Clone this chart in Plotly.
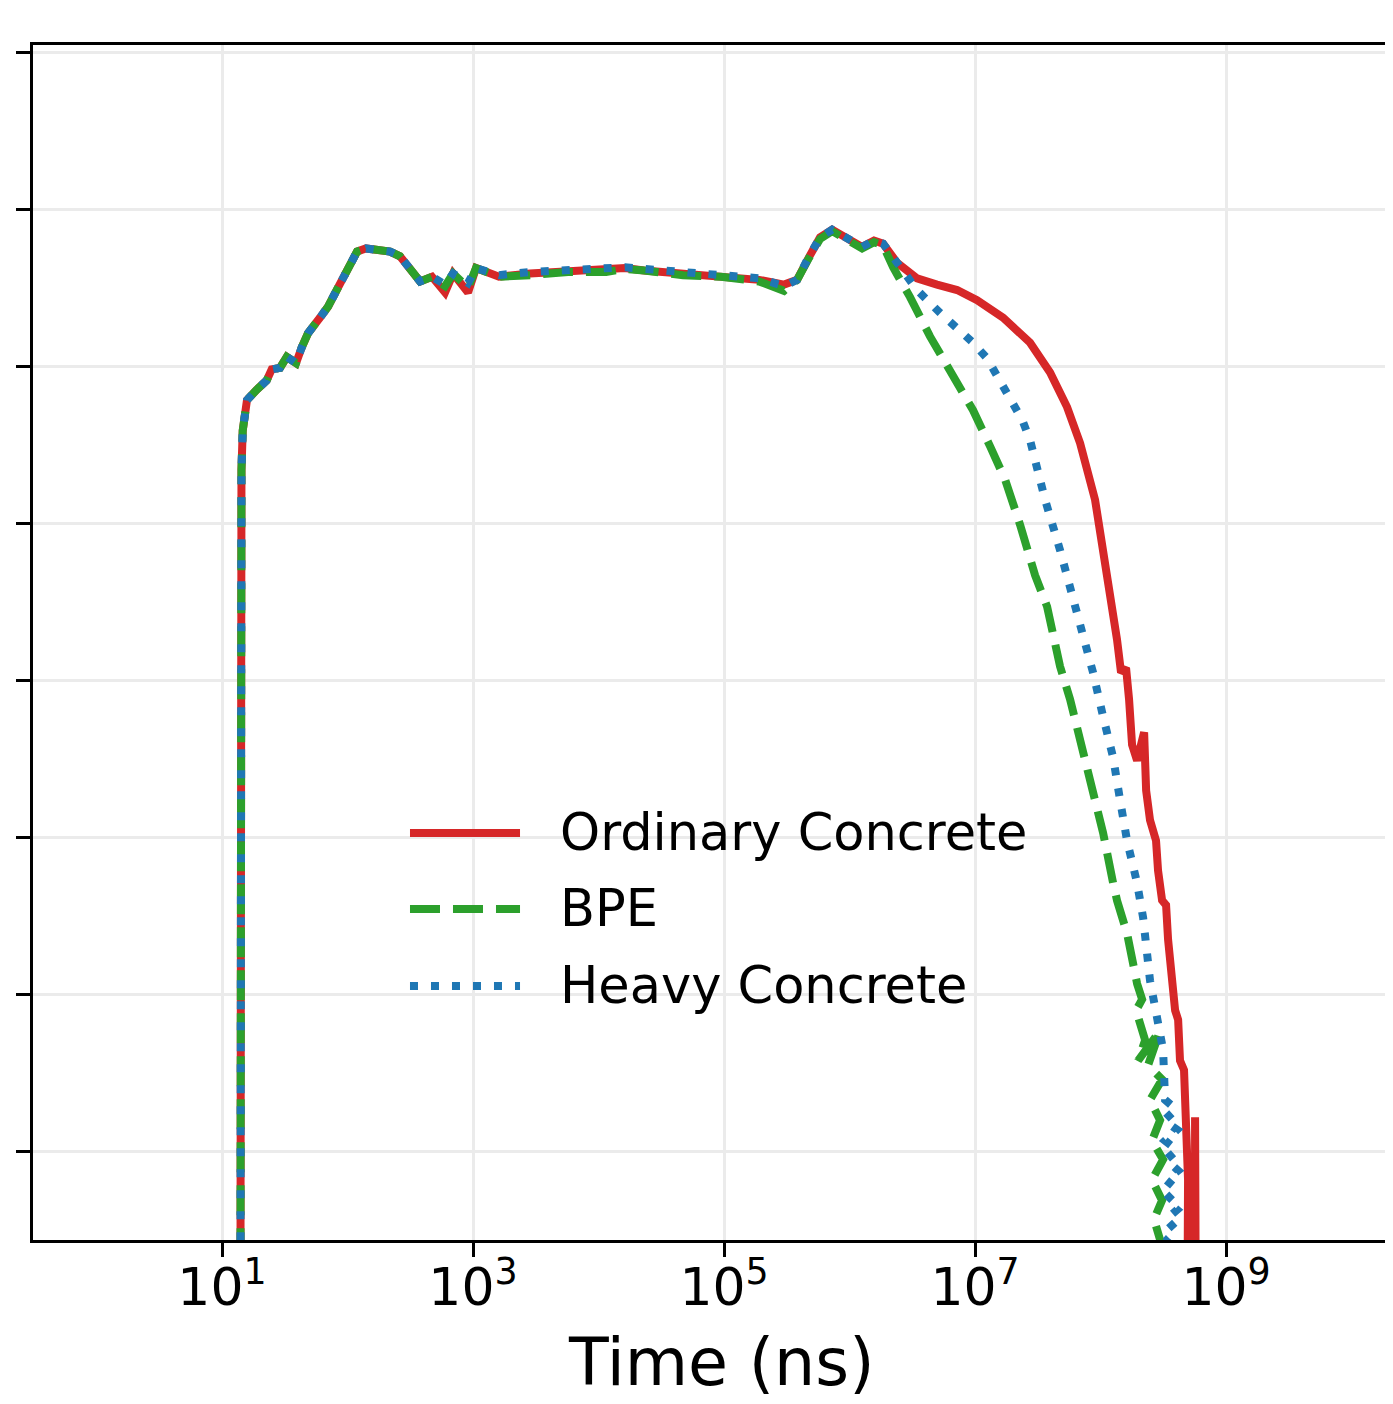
import numpy as np
import plotly.graph_objects as go

# ---------------- data (log10 of time in ns, log10 of relative flux) ----------------
series_names = ["Ordinary Concrete", "BPE", "Heavy Concrete"]

early_log_time = [1.146, 1.146, 1.147, 1.151, 1.155, 1.165, 1.183, 1.199, 1.276, 1.356,
                  1.396, 1.462, 1.516, 1.590, 1.635, 1.685, 1.781, 1.845, 1.924, 2.020,
                  2.076, 2.147, 2.235, 2.339, 2.418, 2.474, 2.578, 2.673, 2.777, 2.841,
                  2.960, 3.024, 3.207, 3.454, 3.757, 4.060, 4.211, 4.363, 4.673, 4.976,
                  5.279, 5.478, 5.582, 5.677, 5.765, 5.861, 5.980, 6.100, 6.195, 6.267]

early_red = [-8.5, -6.03, -4.12, -2.98, -2.66, -2.41, -2.28, -2.215, -2.15, -2.09,
             -2.02, -2.01, -1.94, -1.98, -1.88, -1.79, -1.69, -1.62, -1.50, -1.35,
             -1.27, -1.25, -1.26, -1.27, -1.30, -1.36, -1.46, -1.43, -1.53, -1.41,
             -1.53, -1.375, -1.43, -1.41, -1.40, -1.39, -1.375, -1.39, -1.41, -1.43,
             -1.45, -1.48, -1.45, -1.305, -1.18, -1.13, -1.19, -1.24, -1.20, -1.22]
early_green = [-8.5, -6.03, -4.12, -2.98, -2.66, -2.41, -2.28, -2.215, -2.15, -2.09,
               -2.02, -2.01, -1.94, -1.98, -1.88, -1.79, -1.69, -1.62, -1.50, -1.35,
               -1.27, -1.25, -1.26, -1.27, -1.30, -1.36, -1.46, -1.43, -1.49, -1.41,
               -1.50, -1.375, -1.43, -1.42, -1.40, -1.40, -1.38, -1.39, -1.42, -1.43,
               -1.46, -1.52, -1.45, -1.31, -1.19, -1.14, -1.20, -1.25, -1.21, -1.23]
early_blue = [-8.5, -6.03, -4.12, -2.98, -2.66, -2.41, -2.28, -2.215, -2.15, -2.09,
              -2.02, -2.01, -1.94, -1.98, -1.88, -1.79, -1.69, -1.62, -1.50, -1.35,
              -1.27, -1.25, -1.26, -1.27, -1.30, -1.36, -1.46, -1.43, -1.48, -1.41,
              -1.47, -1.375, -1.42, -1.40, -1.39, -1.38, -1.37, -1.38, -1.40, -1.42,
              -1.44, -1.49, -1.45, -1.30, -1.18, -1.13, -1.19, -1.24, -1.20, -1.22]

red_tail_log_time = [6.378, 6.538, 6.697, 6.857, 7.016, 7.223, 7.438, 7.598, 7.733, 7.837,
                     7.956, 8.036, 8.092, 8.131, 8.163, 8.203, 8.227, 8.251, 8.291, 8.347,
                     8.363, 8.394, 8.442, 8.458, 8.490, 8.522, 8.538, 8.562, 8.594, 8.618,
                     8.633, 8.665, 8.681, 8.697, 8.689, 8.753, 8.753, 8.761]
red_tail = [-1.34, -1.44, -1.48, -1.515, -1.58, -1.69, -1.85, -2.04, -2.26, -2.49,
            -2.85, -3.23, -3.49, -3.74, -3.95, -3.92, -4.12, -4.41, -4.51, -4.33,
            -4.70, -4.89, -5.02, -5.21, -5.40, -5.43, -5.65, -5.88, -6.10, -6.16,
            -6.42, -6.48, -6.73, -7.18, -8.5, -8.5, -6.78, -8.5]

green_tail_log_time = [6.347, 6.482, 6.641, 6.825, 6.984, 7.120, 7.239, 7.359, 7.478, 7.574,
                       7.677, 7.757, 7.861, 7.940, 8.020, 8.100, 8.131, 8.211, 8.235, 8.291,
                       8.331, 8.283, 8.355, 8.299, 8.474, 8.378, 8.490, 8.394, 8.474, 8.410,
                       8.498, 8.410, 8.490, 8.426, 8.474, 8.434]
green_tail = [-1.37, -1.56, -1.81, -2.07, -2.28, -2.51, -2.72, -3.01, -3.33, -3.53,
              -3.91, -4.12, -4.44, -4.68, -4.97, -5.29, -5.40, -5.61, -5.72, -5.93,
              -6.03, -6.10, -6.29, -6.42, -6.23, -6.45, -6.54, -6.67, -6.80, -6.93,
              -7.05, -7.18, -7.31, -7.43, -7.56, -8.5]

blue_tail_log_time = [6.378, 6.538, 6.721, 6.857, 6.984, 7.096, 7.199, 7.295, 7.375, 7.438,
                      7.558, 7.677, 7.797, 7.940, 8.020, 8.100, 8.155, 8.211, 8.291, 8.339,
                      8.394, 8.450, 8.498, 8.514, 8.602, 8.506, 8.610, 8.514, 8.610, 8.522,
                      8.618, 8.522, 8.610, 8.522, 8.610, 8.522, 8.602, 8.530, 8.570]
blue_tail = [-1.34, -1.515, -1.66, -1.75, -1.85, -1.95, -2.09, -2.215, -2.34, -2.47,
             -2.85, -3.17, -3.52, -3.95, -4.23, -4.49, -4.76, -5.02, -5.29, -5.51,
             -5.91, -6.14, -6.35, -6.67, -6.73, -6.80, -6.86, -6.93, -6.99, -7.05,
             -7.12, -7.18, -7.24, -7.31, -7.37, -7.43, -7.50, -7.56, -8.5]

x_tick_values = [1e1, 1e3, 1e5, 1e7, 1e9]
x_tick_labels = ["10<sup>1</sup>", "10<sup>3</sup>", "10<sup>5</sup>", "10<sup>7</sup>", "10<sup>9</sup>"]
y_tick_values = [1e0, 1e-1, 1e-2, 1e-3, 1e-4, 1e-5, 1e-6, 1e-7]
x_title = "Time (ns)"

colors = ["#d62728", "#2ca02c", "#1f77b4"]
dashes = ["solid", "30px,13px", "8px,13px"]

# ---------------- build ----------------
series = [
    (early_log_time + red_tail_log_time, early_red + red_tail),
    (early_log_time + green_tail_log_time, early_green + green_tail),
    (early_log_time + blue_tail_log_time, early_blue + blue_tail),
]

fig = go.Figure()
for (lt, ly), name, c, d in zip(series, series_names, colors, dashes):
    fig.add_trace(go.Scatter(
        x=10 ** np.array(lt), y=10 ** np.array(ly), mode="lines", name=name,
        line=dict(color=c, width=8, dash=d), showlegend=False,
    ))

# custom legend (long line samples, like matplotlib)
legend_rows = [0.3406, 0.2770, 0.2126]
for name, c, d, yy in zip(series_names, colors, dashes, legend_rows):
    fig.add_shape(type="line", xref="paper", yref="paper", x0=0.2772, x1=0.3581, y0=yy, y1=yy,
                  line=dict(color=c, width=8, dash=d))
    fig.add_annotation(xref="paper", yref="paper", x=0.386, y=yy, text=name, showarrow=False,
                       xanchor="left", yanchor="middle",
                       font=dict(family="DejaVu Sans", size=51, color="black"))

# x-axis title (the full axes extends past the visible right edge, so it is centred a bit right)
fig.add_annotation(xref="paper", yref="paper", x=0.5066, y=0, yshift=-84, text=x_title,
                   showarrow=False, xanchor="center", yanchor="top", height=72,
                   font=dict(family="DejaVu Sans", size=65, color="black"))

# page body has an 8px margin: figure is sized/offset to compensate
fig.update_layout(
    width=1385, height=1396,
    margin=dict(l=25, r=0, t=37, b=164),
    paper_bgcolor="white", plot_bgcolor="white",
    font=dict(family="DejaVu Sans", color="black"),
)
fig.update_xaxes(
    type="log", range=[-0.506, 10.33],
    tickvals=x_tick_values, ticktext=x_tick_labels,
    tickfont=dict(size=52, family="DejaVu Sans", color="black"),
    ticks="outside", ticklen=14, tickwidth=2.5, tickcolor="black",
    ticklabelstandoff=-14,
    showline=True, linecolor="black", linewidth=3, mirror=True,
    showgrid=True, gridcolor="#ebebeb", gridwidth=2.5,
)
fig.update_yaxes(
    type="log", range=[-7.562, 0.045],
    tickvals=y_tick_values, showticklabels=False,
    ticks="outside", ticklen=14, tickwidth=2.5, tickcolor="black",
    showline=True, linecolor="black", linewidth=3, mirror=False,
    showgrid=True, gridcolor="#ebebeb", gridwidth=2.5,
)

fig.write_html("out.html")
